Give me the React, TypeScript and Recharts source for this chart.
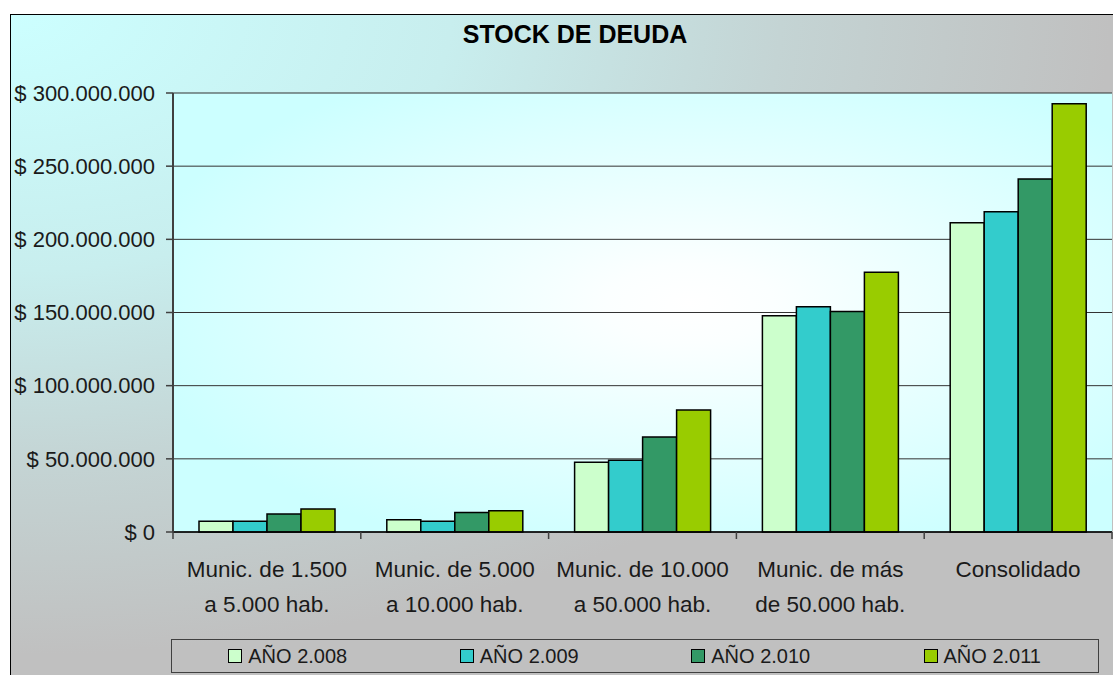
import React from 'react';
import { BarChart, Bar, XAxis, YAxis, CartesianGrid, Legend } from 'recharts';

const categories = [
  'Munic. de 1.500\na 5.000 hab.',
  'Munic. de 5.000\na 10.000 hab.',
  'Munic. de 10.000\na 50.000 hab.',
  'Munic. de más\nde 50.000 hab.',
  'Consolidado',
];

const anio2008 = [7300000, 8400000, 47600000, 147800000, 211400000];
const anio2009 = [7300000, 7300000, 49000000, 154000000, 218900000];
const anio2010 = [12300000, 13400000, 65000000, 150600000, 241300000];
const anio2011 = [15700000, 14600000, 83400000, 177500000, 292600000];

const yTicks = [0, 50000000, 100000000, 150000000, 200000000, 250000000, 300000000];

const series = [
  { key: 'a2008', name: 'AÑO 2.008', color: '#ccffcc', values: anio2008 },
  { key: 'a2009', name: 'AÑO 2.009', color: '#33cccc', values: anio2009 },
  { key: 'a2010', name: 'AÑO 2.010', color: '#339966', values: anio2010 },
  { key: 'a2011', name: 'AÑO 2.011', color: '#99cc00', values: anio2011 },
];

const data = categories.map((cat, i) => {
  const row: { [k: string]: string | number } = { cat };
  series.forEach((s) => {
    row[s.key] = s.values[i];
  });
  return row;
});

const FONT = '"Liberation Sans", Arial, sans-serif';

const formatMoney = (v: number) =>
  '$ ' + String(Math.round(v)).replace(/\B(?=(\d{3})+(?!\d))/g, '.');

const CategoryTick = (props: any) => {
  const { x, y, payload, index, width, visibleTicksCount } = props;
  const band = width / visibleTicksCount;
  const lines = String(payload.value).split('\n');
  return (
    <g>
      <line x1={x - band / 2} x2={x - band / 2} y1={y} y2={y + 7} stroke="#404040" strokeWidth={1.5} />
      {index === visibleTicksCount - 1 && (
        <line x1={x + band / 2} x2={x + band / 2} y1={y} y2={y + 7} stroke="#404040" strokeWidth={1.5} />
      )}
      {lines.map((ln, i) => (
        <text
          key={i}
          x={x}
          y={y + 45 + i * 35}
          textAnchor="middle"
          fontFamily={FONT}
          fontSize={22.5}
          fill="#1a1a1a"
        >
          {ln}
        </text>
      ))}
    </g>
  );
};

const renderLegend = (props: any) => {
  const items = props.payload || [];
  return (
    <div
      style={{
        display: 'flex',
        width: '100%',
        height: '100%',
        border: '1px solid #404040',
        boxSizing: 'border-box',
        fontFamily: FONT,
        fontSize: 20,
        color: '#1a1a1a',
      }}
    >
      {items.map((it: any) => (
        <div
          key={it.value}
          style={{ flex: 1, display: 'flex', alignItems: 'center', justifyContent: 'center' }}
        >
          <span
            style={{
              display: 'inline-block',
              width: 12,
              height: 12,
              border: '1px solid #000',
              background: it.color,
              marginRight: 6,
            }}
          />
          <span>{it.value}</span>
        </div>
      ))}
    </div>
  );
};

export default function App() {
  return (
    <div style={{ position: 'fixed', left: 0, top: 0, width: 1113, height: 675, overflow: 'hidden', background: '#fff' }}>
      <div
        style={{
          position: 'absolute',
          left: 10,
          top: 14,
          width: 1120,
          height: 680,
          border: '1.5px solid #000',
          boxSizing: 'border-box',
          background:
            'radial-gradient(ellipse 1100px 640px at 0px 0px, #ccffff 0%, #c8eeee 40%, #c4d4d4 70%, #c0c0c0 100%)',
        }}
      />
      <div
        style={{
          position: 'absolute',
          left: 0,
          top: 20,
          width: 1150,
          textAlign: 'center',
          fontFamily: FONT,
          fontWeight: 'bold',
          fontSize: 25,
          color: '#000',
        }}
      >
        STOCK DE DEUDA
      </div>
      <div style={{ position: 'absolute', left: 0, top: 0 }}>
        <BarChart
          width={1113}
          height={675}
          data={data}
          margin={{ top: 93, right: 1, left: 0, bottom: 0 }}
          barGap={0}
          barSize={34}
        >
          <defs>
            <radialGradient id="plotBg" cx="0.55" cy="0.48" r="0.6">
              <stop offset="0" stopColor="#ffffff" />
              <stop offset="0.15" stopColor="#fbffff" />
              <stop offset="1" stopColor="#ccffff" />
            </radialGradient>
          </defs>
          <CartesianGrid vertical={false} stroke="#333" strokeWidth={1} fill="url(#plotBg)" fillOpacity={1} />
          <XAxis
            dataKey="cat"
            height={143}
            interval={0}
            tickSize={0}
            tickMargin={0}
            tickLine={false}
            axisLine={{ stroke: '#000', strokeWidth: 1.5 }}
            tick={<CategoryTick />}
          />
          <YAxis
            width={173}
            domain={[0, 300000000]}
            ticks={yTicks}
            tickFormatter={formatMoney}
            tickSize={7}
            tickMargin={11}
            tickLine={{ stroke: '#404040', strokeWidth: 1.5 }}
            axisLine={{ stroke: '#404040', strokeWidth: 2 }}
            tick={{ fontFamily: FONT, fontSize: 22, fill: '#1a1a1a' }}
          />
          <Legend
            layout="horizontal"
            verticalAlign="middle"
            align="center"
            width={928}
            height={34}
            wrapperStyle={{ left: 171, top: 639, width: 928, height: 34 }}
            content={renderLegend}
          />
          {series.map((s) => (
            <Bar
              key={s.key}
              dataKey={s.key}
              name={s.name}
              fill={s.color}
              stroke="#000"
              strokeWidth={1.5}
              isAnimationActive={false}
            />
          ))}
        </BarChart>
      </div>
    </div>
  );
}
